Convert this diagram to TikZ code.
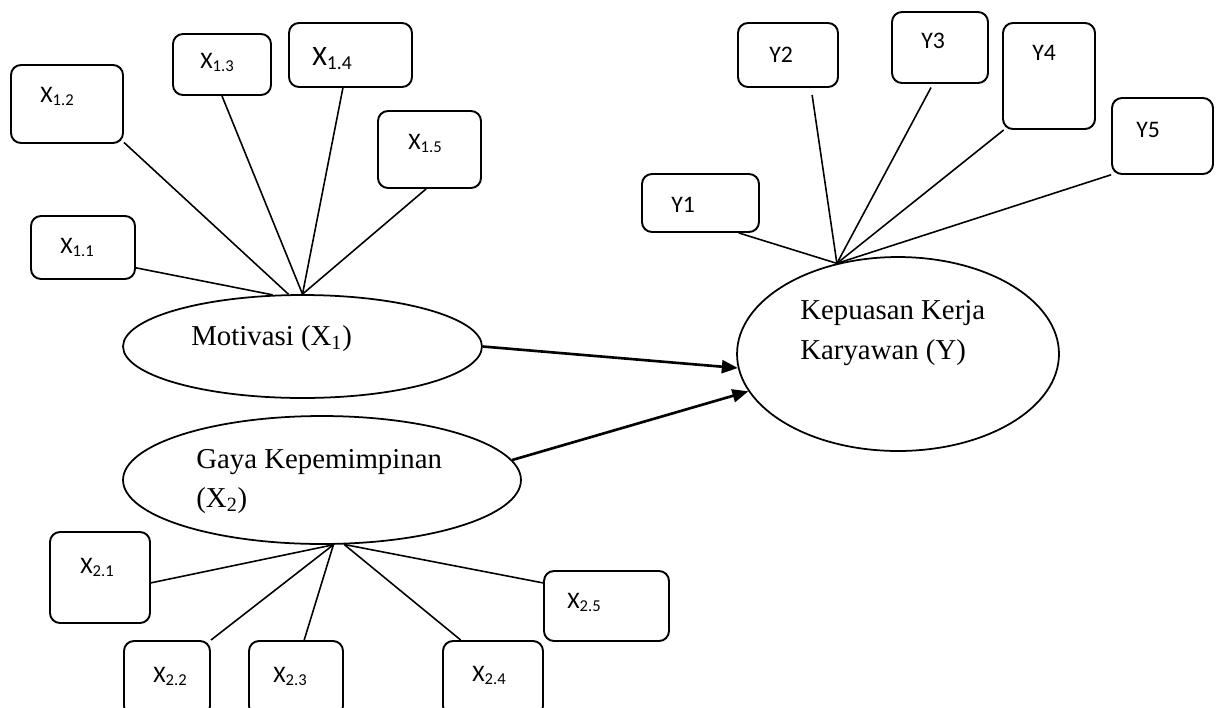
\documentclass[tikz,border=0pt]{standalone}
\usepackage{fontspec}
\setmainfont{Liberation Serif}
\newfontfamily\boxfont{Carlito}
\usetikzlibrary{%
    arrows.meta,
    fit,
    shapes.geometric
}
\tikzset{
    indbox/.style     = {draw, rounded corners=0.2cm, line width=1.1pt, inner sep=0pt},
    boxlabel/.style   = {anchor=base west, inner sep=0pt, font=\boxfont\fontsize{13.5}{16}\selectfont},
    varellipse/.style = {draw, ellipse, line width=1pt, inner sep=0pt},
    varlabel/.style   = {anchor=base west, inner sep=0pt, font=\fontsize{16.4}{22}\selectfont},
    link/.style       = {line width=0.9pt},
    patharrow/.style  = {line width=1.5pt, -{Triangle[length=0.32cm,width=0.26cm]}}
}

\begin{document}
\begin{tikzpicture}[x=0.02cm, y=-0.02cm]
    \clip (0,0) rectangle (1219,707);

    % latent variables
    \node[varellipse, minimum width=7.18cm, minimum height=2.06cm] (mot) at (302.5,346.5) {};
    \node[varellipse, minimum width=7.96cm, minimum height=2.56cm] (gaya) at (322,480) {};
    \node[varellipse, minimum width=6.44cm, minimum height=3.88cm] (kep) at (898,354) {};

    \node[varlabel] (mottxt) at (191,345) {Motivasi (X\textsubscript{1})};
    \node[varlabel] (gayatxt) at (196,468) {Gaya Kepemimpinan};
    \node[varlabel] (gayatxtb) at (196,507) {(X\textsubscript{2})};
    \node[varlabel] (keptxt) at (800,319) {Kepuasan Kerja};
    \node[varlabel] (keptxtb) at (800,359) {Karyawan (Y)};

    % indicators of X1
    \node[indbox, fit={(31,216) (135,279)}] (x11) {};
    \node[indbox, fit={(11,65) (123,143)}] (x12) {};
    \node[indbox, fit={(173,34) (271,95)}] (x13) {};
    \node[indbox, fit={(289,23) (412,87)}] (x14) {};
    \node[indbox, fit={(378,111) (481,188)}] (x15) {};

    \node[boxlabel] (x11txt) at (60,253) {X\textsubscript{1.1}};
    \node[boxlabel] (x12txt) at (40,102) {X\textsubscript{1.2}};
    \node[boxlabel] (x13txt) at (200,68) {X\textsubscript{1.3}};
    \node[boxlabel, font=\boxfont\fontsize{16}{18}\selectfont] (x14txt) at (312,65) {X\textsubscript{1.4}};
    \node[boxlabel] (x15txt) at (408,149) {X\textsubscript{1.5}};

    \draw[link] (x11.-21) -- (mot.120);
    \draw[link] (x12.-34) -- (mot.105);
    \draw[link] (x13.south) -- (mot.north);
    \draw[link] (x14.-103) -- (mot.north);
    \draw[link] (x15.-95) -- (mot.north);

    % indicators of X2
    \node[indbox, fit={(50,532) (150,623)}] (x21) {};
    \node[indbox, fit={(124,641) (210,716)}] (x22) {};
    \node[indbox, fit={(249,641) (343,716)}] (x23) {};
    \node[indbox, fit={(443,641) (543,716)}] (x24) {};
    \node[indbox, fit={(544,571) (669,641)}] (x25) {};

    \node[boxlabel] (x21txt) at (80,573) {X\textsubscript{2.1}};
    \node[boxlabel] (x22txt) at (153,682) {X\textsubscript{2.2}};
    \node[boxlabel] (x23txt) at (273,682) {X\textsubscript{2.3}};
    \node[boxlabel] (x24txt) at (472,681) {X\textsubscript{2.4}};
    \node[boxlabel] (x25txt) at (567,608) {X\textsubscript{2.5}};

    \draw[link] (x21.-6) -- (gaya.-80);
    \draw[link] (x22.north east) -- (gaya.-80);
    \draw[link] (x23.78) -- (gaya.-80);
    \draw[link] (x24.130) -- (gaya.-71);
    \draw[link] (x25.160) -- (gaya.-71);

    % indicators of Y
    \node[indbox, fit={(642,174) (759,232)}] (y1) {};
    \node[indbox, fit={(738,23) (838,87)}] (y2) {};
    \node[indbox, fit={(892,12) (988,83)}] (y3) {};
    \node[indbox, fit={(1003,23) (1095,129)}] (y4) {};
    \node[indbox, fit={(1112,98) (1213,174)}] (y5) {};

    \node[boxlabel] (y1txt) at (671,212) {Y1};
    \node[boxlabel] (y2txt) at (769,62) {Y2};
    \node[boxlabel] (y3txt) at (921,48) {Y3};
    \node[boxlabel] (y4txt) at (1032,60) {Y4};
    \node[boxlabel] (y5txt) at (1136,137) {Y5};

    \draw[link] (y1.-38) -- (kep.124);
    \draw[link, shorten <=0.14cm] (y2.-55) -- (kep.124);
    \draw[link, shorten <=0.08cm] (y3.-101) -- (kep.124);
    \draw[link] (y4.-130) -- (kep.124);
    \draw[link] (y5.-143) -- (kep.124);

    % paths
    \draw[patharrow] (mot.east) -- (kep.185);
    \draw[patharrow] (gaya.6) -- (kep.194);
\end{tikzpicture}
\end{document}
